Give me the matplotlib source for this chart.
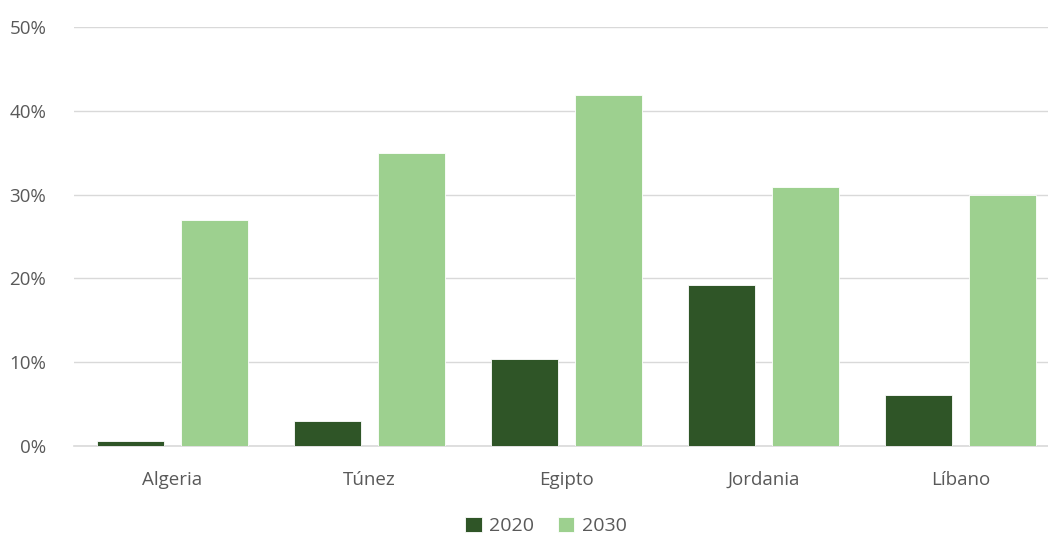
import numpy as np
import matplotlib.pyplot as plt
from matplotlib.ticker import PercentFormatter

plt.rcParams['font.family'] = ['Open Sans', 'DejaVu Sans']

paises = ['Algeria', 'Túnez', 'Egipto', 'Jordania', 'Líbano']
v2020 = [0.6, 3.0, 10.4, 19.2, 6.1]
v2030 = [27.0, 35.0, 41.9, 30.9, 30.0]

fig = plt.figure(figsize=(10.48, 5.35), dpi=100)
# the plot area runs past the right edge of the image, as in the original
ax = fig.add_axes([74 / 1048, 0.1664, 985 / 1048, 0.7831])

x = np.arange(len(paises))
w = 0.34
off = 0.213
ax.bar(x - off, v2020, w, color='#2f5527', edgecolor='white', linewidth=0.6, label='2020', zorder=3)
ax.bar(x + off, v2030, w, color='#9dd08f', edgecolor='white', linewidth=0.6, label='2030', zorder=3)

ax.set_xlim(-0.5, len(paises) - 0.5)
ax.set_ylim(0, 50)
ax.set_yticks(range(0, 51, 10))
ax.yaxis.set_major_formatter(PercentFormatter(decimals=0))
ax.set_xticks(x)
ax.set_xticklabels(paises)
ax.grid(axis='y', color='#d9d9d9', linewidth=1, zorder=0)
for s in ['top', 'right', 'left']:
    ax.spines[s].set_visible(False)
ax.spines['bottom'].set_color('#d9d9d9')
ax.spines['bottom'].set_linewidth(1.2)
ax.tick_params(length=0, labelsize=13.5, colors='#595959', pad=18)
ax.tick_params(axis='y', pad=20)

ax.legend(loc='lower center', bbox_to_anchor=(472 / 985, -0.245), ncol=2, frameon=False,
          fontsize=14, labelcolor='#595959', handlelength=0.85, handleheight=0.85,
          handletextpad=0.4, columnspacing=1.2, borderpad=0.2)

fig.savefig('out.png')
